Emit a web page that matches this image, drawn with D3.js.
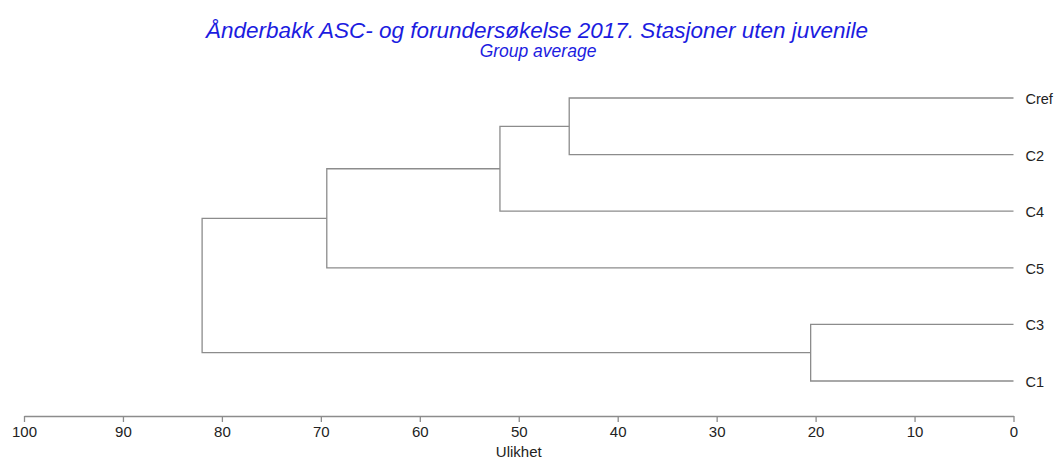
<!DOCTYPE html>
<html>
<head>
<meta charset="utf-8">
<script src="https://cdn.jsdelivr.net/npm/d3@7"></script>
<style>
  body { margin: 0; background: #fff; }
  svg text { font-family: "Liberation Sans", Arial, sans-serif; }
</style>
</head>
<body>
<svg id="chart"></svg>
<script>
// leaves top to bottom
let leaves = ['Cref', 'C2', 'C4', 'C5', 'C3', 'C1']
// merges: left child, right child, dissimilarity
let mergeLeft = ['Cref', 'C3', 'M1', 'M3', 'M4']
let mergeRight = ['C2', 'C1', 'C4', 'C5', 'M2']
let mergeHeight = [44.9, 20.5, 51.9, 69.4, 82.0]
let tickValues = [100, 90, 80, 70, 60, 50, 40, 30, 20, 10, 0]

let width = 1057
let height = 460

let svg = d3.select('#chart')
    .attr('width', width)
    .attr('height', height)

let xScale = d3.scaleLinear()
    .domain([100, 0])
    .range([24, 1013.5])

let yScale = d3.scalePoint()
    .domain(leaves)
    .range([98, 381])

// position of every node (leaves at 0)
let nodes = {}
leaves.forEach(l => {
    nodes[l] = { x: xScale(0), y: yScale(l) }
})

let lineColor = '#8c8c8c'

mergeLeft.forEach((a, i) => {
    let b = mergeRight[i]
    let name = 'M' + (i + 1)
    let hx = xScale(mergeHeight[i])
    let na = nodes[a]
    let nb = nodes[b]
    nodes[name] = { x: hx, y: (na.y + nb.y) / 2 }
    svg.append('path')
        .attr('d', `M${na.x},${na.y}H${hx}V${nb.y}H${nb.x}`)
        .attr('fill', 'none')
        .attr('stroke', lineColor)
        .attr('stroke-width', 1.3)
})

// leaf labels
svg.selectAll('.leaf')
    .data(leaves)
    .enter()
    .append('text')
    .attr('class', 'leaf')
    .attr('x', xScale(0) + 12)
    .attr('y', d => yScale(d) + 6)
    .attr('font-size', 14.5)
    .attr('fill', '#222')
    .text(d => d)

// axis
let xAxis = d3.axisBottom(xScale)
    .tickValues(tickValues)
    .tickSize(6)
    .tickSizeOuter(0)
    .tickFormat(d3.format('d'))

let axisG = svg.append('g')
    .attr('transform', 'translate(0, 416)')
    .call(xAxis)
axisG.select('.domain').attr('stroke', lineColor).attr('stroke-width', 1.3)
axisG.selectAll('.tick line').attr('stroke', lineColor).attr('stroke-width', 1.3)
axisG.selectAll('.tick text')
    .attr('font-size', 15)
    .attr('fill', '#222')
    .attr('font-family', '"Liberation Sans", Arial, sans-serif')
    .attr('dy', '0.78em')

svg.append('text')
    .attr('x', (xScale(100) + xScale(0)) / 2)
    .attr('y', 456.5)
    .attr('text-anchor', 'middle')
    .attr('font-size', 15)
    .attr('fill', '#222')
    .text('Ulikhet')

// titles
svg.append('text')
    .attr('x', 537)
    .attr('y', 38)
    .attr('text-anchor', 'middle')
    .attr('font-size', 22.5)
    .attr('font-style', 'italic')
    .attr('fill', '#1c1ce0')
    .text('Ånderbakk ASC- og forundersøkelse 2017. Stasjoner uten juvenile')

svg.append('text')
    .attr('x', 538)
    .attr('y', 57)
    .attr('text-anchor', 'middle')
    .attr('font-size', 17.5)
    .attr('font-style', 'italic')
    .attr('fill', '#1c1ce0')
    .text('Group average')
</script>
</body>
</html>
